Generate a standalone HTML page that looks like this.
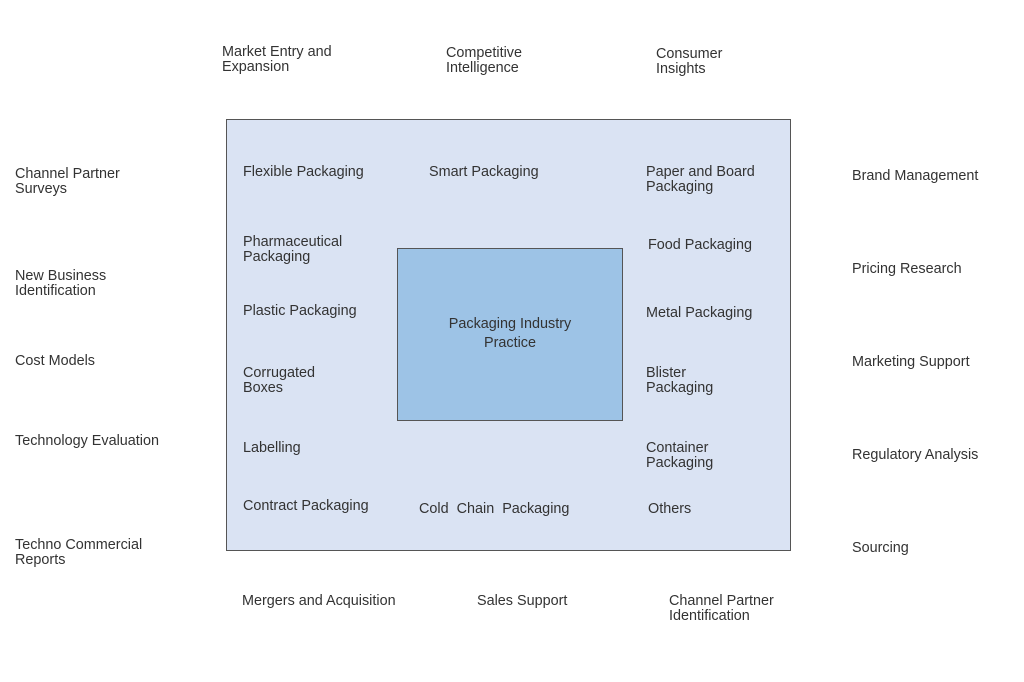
<!DOCTYPE html>
<html><head><style>
body{margin:0;width:1024px;height:682px;background:#fff;position:relative;overflow:hidden;font-family:"Liberation Sans",sans-serif;font-size:14.4px;line-height:15px;color:#333}
.t{position:absolute;white-space:nowrap;margin-top:1px}
#o{position:absolute;left:226px;top:119px;width:563px;height:430px;background:#dae3f3;border:1px solid #555}
#i{position:absolute;left:397px;top:248px;width:224px;height:171px;background:#9dc3e6;border:1px solid #555}
</style></head><body>
<div id="o"></div><div id="i"></div>
<div class="t" style="left:222px;top:44px">Market Entry and<br>Expansion</div>
<div class="t" style="left:446px;top:45px">Competitive<br>Intelligence</div>
<div class="t" style="left:656px;top:46px">Consumer<br>Insights</div>
<div class="t" style="left:15px;top:166px">Channel Partner<br>Surveys</div>
<div class="t" style="left:15px;top:268px">New Business<br>Identification</div>
<div class="t" style="left:15px;top:353px">Cost Models</div>
<div class="t" style="left:15px;top:433px">Technology Evaluation</div>
<div class="t" style="left:15px;top:537px">Techno Commercial<br>Reports</div>
<div class="t" style="left:852px;top:168px">Brand Management</div>
<div class="t" style="left:852px;top:261px">Pricing Research</div>
<div class="t" style="left:852px;top:354px">Marketing Support</div>
<div class="t" style="left:852px;top:447px">Regulatory Analysis</div>
<div class="t" style="left:852px;top:540px">Sourcing</div>
<div class="t" style="left:242px;top:593px">Mergers and Acquisition</div>
<div class="t" style="left:477px;top:593px">Sales Support</div>
<div class="t" style="left:669px;top:593px">Channel Partner<br>Identification</div>
<div class="t" style="left:243px;top:164px">Flexible Packaging</div>
<div class="t" style="left:429px;top:164px">Smart Packaging</div>
<div class="t" style="left:646px;top:164px">Paper and Board<br>Packaging</div>
<div class="t" style="left:243px;top:234px">Pharmaceutical<br>Packaging</div>
<div class="t" style="left:648px;top:237px">Food Packaging</div>
<div class="t" style="left:243px;top:303px">Plastic Packaging</div>
<div class="t" style="left:646px;top:305px">Metal Packaging</div>
<div class="t" style="left:243px;top:365px">Corrugated<br>Boxes</div>
<div class="t" style="left:646px;top:365px">Blister<br>Packaging</div>
<div class="t" style="left:243px;top:440px">Labelling</div>
<div class="t" style="left:646px;top:440px">Container<br>Packaging</div>
<div class="t" style="left:243px;top:498px">Contract Packaging</div>
<div class="t" style="left:419px;top:501px">Cold&nbsp; Chain&nbsp; Packaging</div>
<div class="t" style="left:648px;top:501px">Others</div>
<div class="t" style="left:397px;width:226px;top:314px;text-align:center;white-space:normal;line-height:19px">Packaging Industry<br>Practice</div>
</body></html>
